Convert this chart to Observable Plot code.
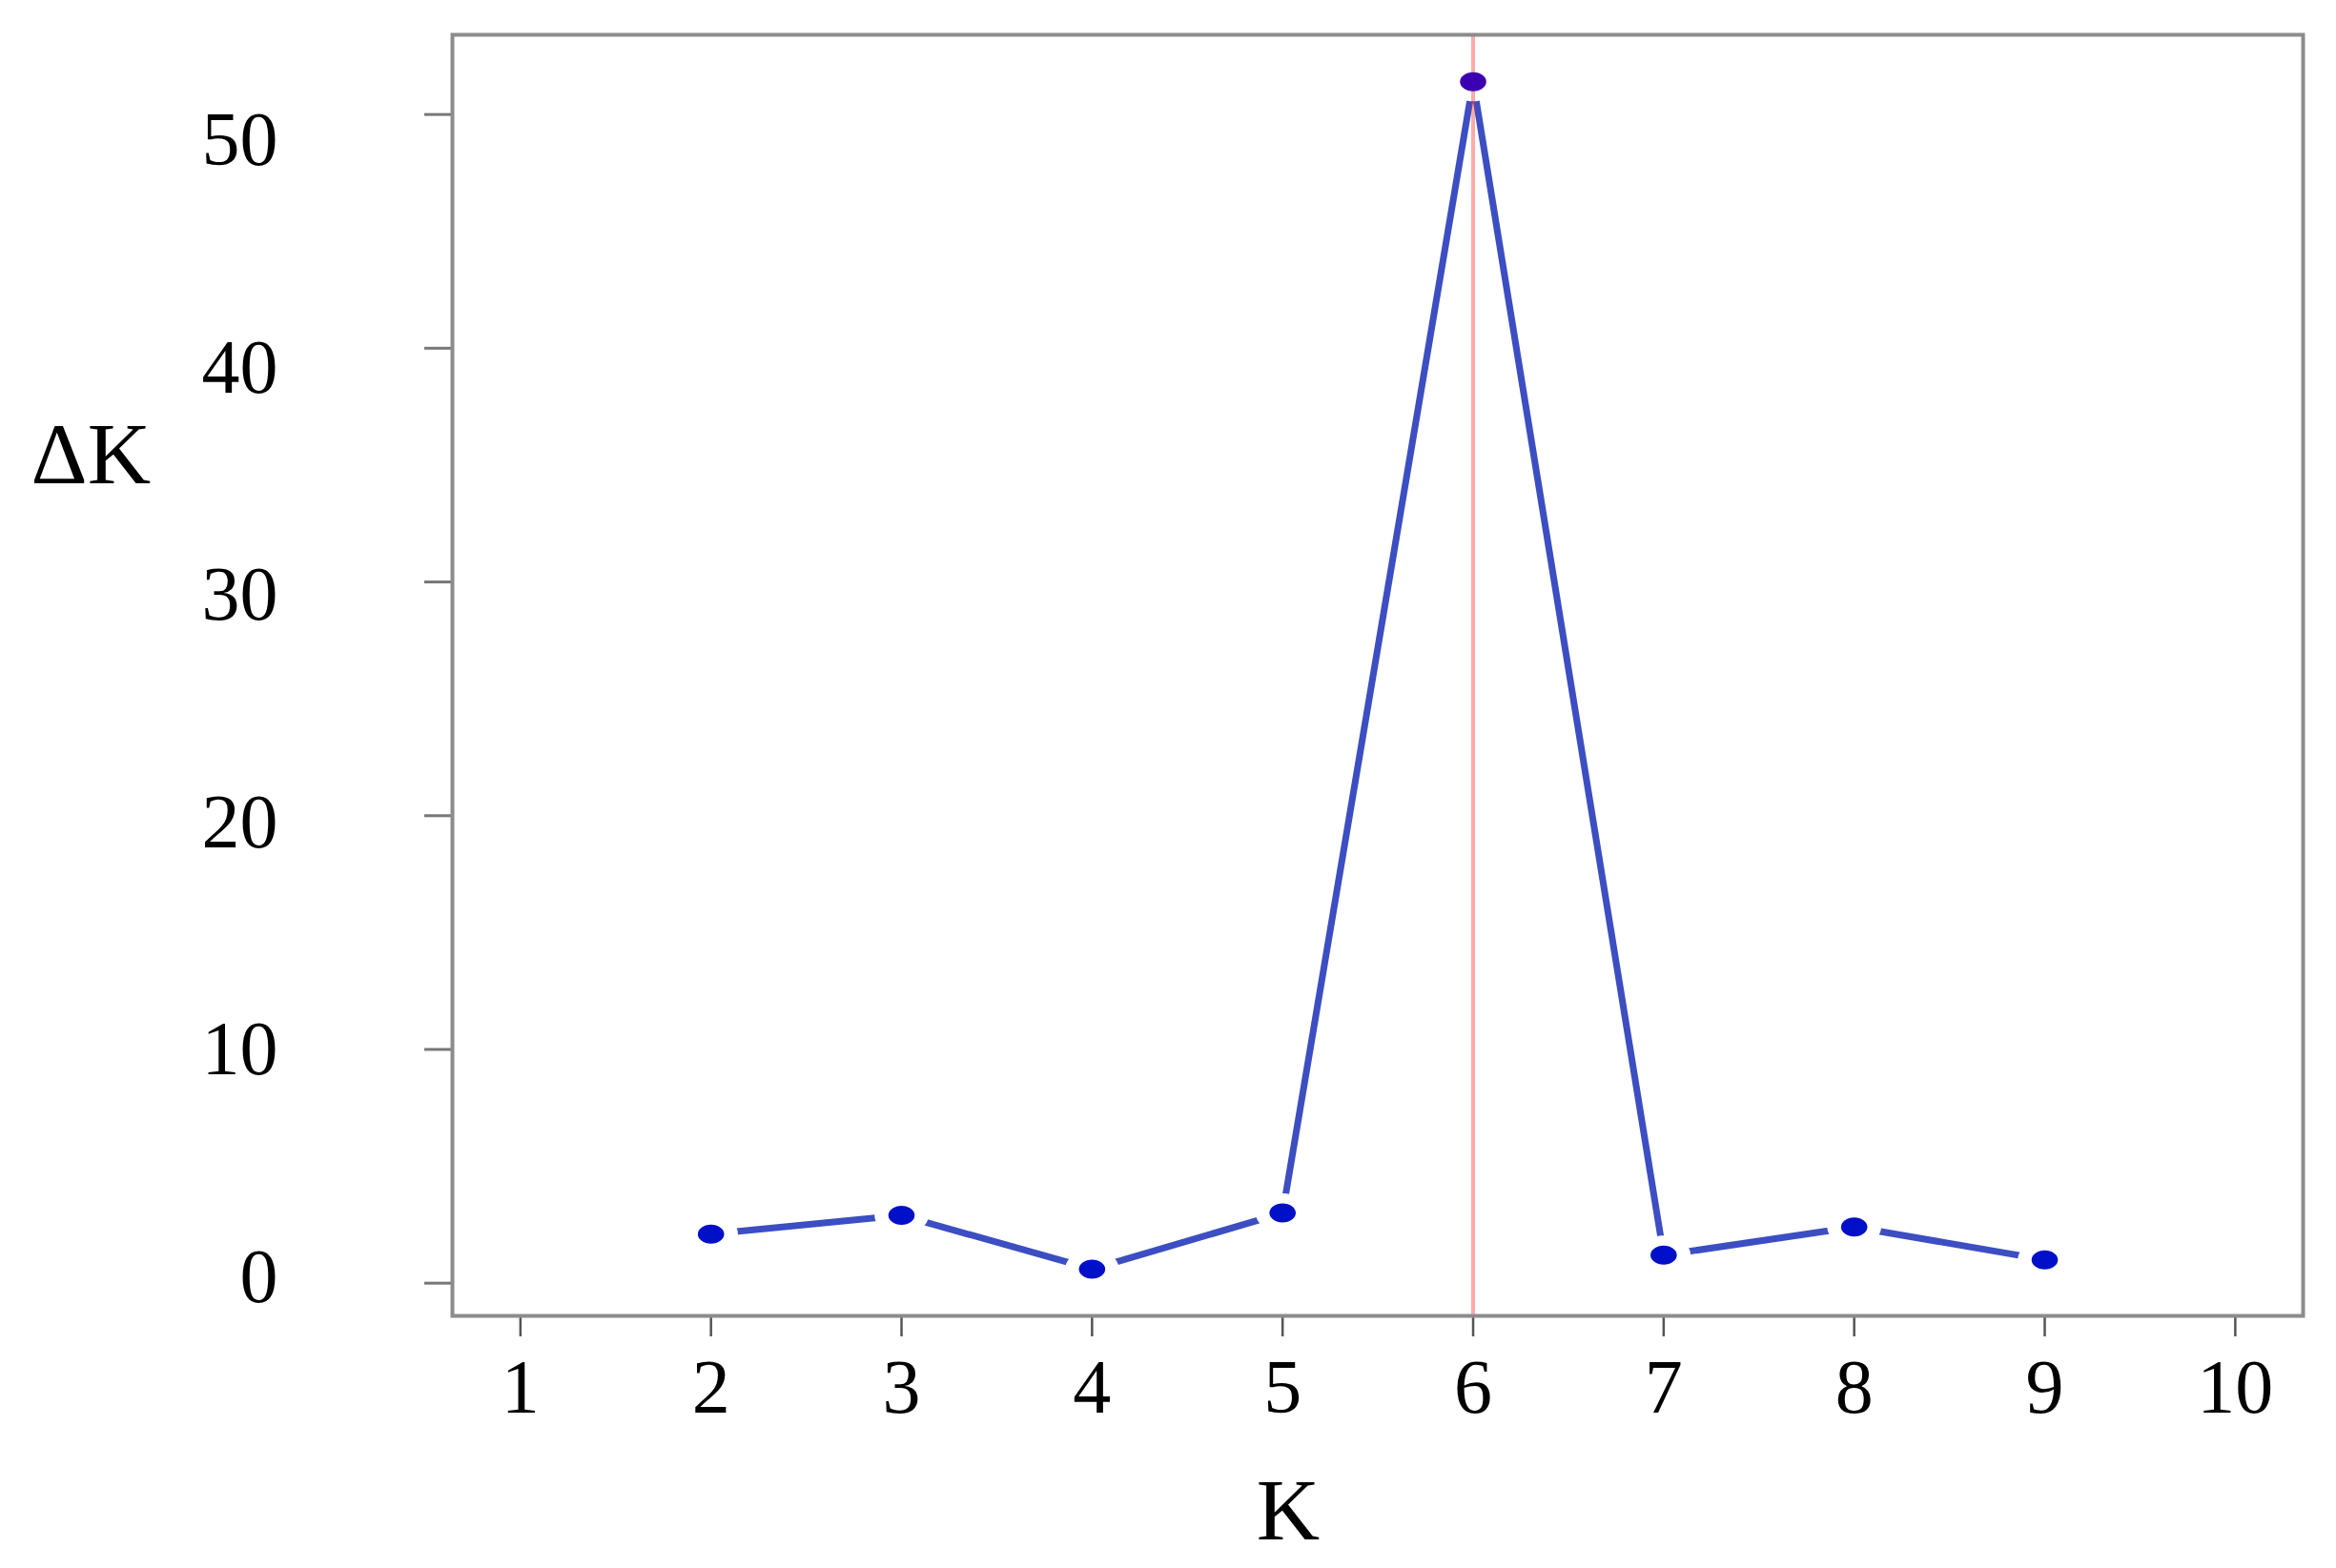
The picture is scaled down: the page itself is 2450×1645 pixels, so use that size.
<!DOCTYPE html>
<html><head><meta charset="utf-8">
<script src="https://cdn.jsdelivr.net/npm/d3@7"></script>
<script src="https://cdn.jsdelivr.net/npm/@observablehq/plot@0.6"></script>
<style>html,body{margin:0;padding:0;background:#fff;}</style>
</head><body><div id="chart"></div>
<script>
const kValues = [2, 3, 4, 5, 6, 7, 8, 9];
const deltaK = [2.1, 2.9, 0.6, 3.0, 51.4, 1.2, 2.4, 1.0];
const xTicks = [1, 2, 3, 4, 5, 6, 7, 8, 9, 10];
const yTicks = [0, 10, 20, 30, 40, 50];
const bestK = [6];
const xLabel = "K";
const yLabel = "ΔK";

const data = kValues.map((k, i) => ({K: k, dK: deltaK[i]}));

// in the reference the y tick labels sit on a slightly compressed grid relative to the ticks
const labelScale = 0.973, labelShift = 0.24;

function ellipseSymbol(aspect) {
  return {
    draw(ctx, size) {
      const r = Math.sqrt(size / Math.PI);
      const rx = r * aspect, ry = r, c = 0.5523;
      ctx.moveTo(rx, 0);
      ctx.bezierCurveTo(rx, ry * c, rx * c, ry, 0, ry);
      ctx.bezierCurveTo(-rx * c, ry, -rx, ry * c, -rx, 0);
      ctx.bezierCurveTo(-rx, -ry * c, -rx * c, -ry, 0, -ry);
      ctx.bezierCurveTo(rx * c, -ry, rx, -ry * c, rx, 0);
      ctx.closePath();
    }
  };
}
const ell = ellipseSymbol(1.38);
const font = "'Liberation Serif', 'Times New Roman', serif";

const chart = Plot.plot({
  width: 2450,
  height: 1645,
  marginLeft: 474,
  marginRight: 35,
  marginTop: 36,
  marginBottom: 265,
  x: {domain: [0.643, 10.356]},
  y: {domain: [-1.40, 53.41]},
  style: {fontFamily: font, background: "#fff", color: "#000"},
  marks: [
    Plot.axisX({ticks: xTicks, tickFormat: d => String(d), tickSize: 22, tickPadding: 23,
      fontSize: 80, stroke: "#555", strokeWidth: 2.5, fill: "#000", label: null}),
    Plot.axisY({ticks: yTicks, text: null, tickSize: 29, stroke: "#777", strokeWidth: 3, label: null}),
    Plot.text(yTicks, {y: d => d * labelScale + labelShift, text: d => String(d),
      frameAnchor: "left", textAnchor: "end", lineAnchor: "middle", dx: -183,
      fontSize: 80, fill: "#000"}),
    Plot.line(data, {x: "K", y: "dK", stroke: "#3c4ec2", strokeWidth: 7}),
    Plot.dot(data, {x: "K", y: "dK", r: 20.5, symbol: ell, fill: "#fff", stroke: "none"}),
    Plot.ruleX(bestK, {stroke: "#ff2a2a", strokeOpacity: 0.4, strokeWidth: 4}),
    Plot.dot(data, {x: "K", y: "dK", r: 10, symbol: ell, stroke: "none",
      fill: d => bestK.includes(d.K) ? "#3c00b2" : "#0010c8"}),
    Plot.frame({stroke: "#8c8c8c", strokeWidth: 4}),
    Plot.text([yLabel], {text: d => d, frameAnchor: "top-left", textAnchor: "start", lineAnchor: "top",
      dx: -442, dy: 405, fontSize: 92, fill: "#000"}),
    Plot.text([xLabel], {text: d => d, frameAnchor: "bottom", textAnchor: "middle", lineAnchor: "top",
      dx: -94, dy: 169, fontSize: 92, fill: "#000"})
  ]
});
document.getElementById("chart").appendChild(chart);
</script>
</body></html>
